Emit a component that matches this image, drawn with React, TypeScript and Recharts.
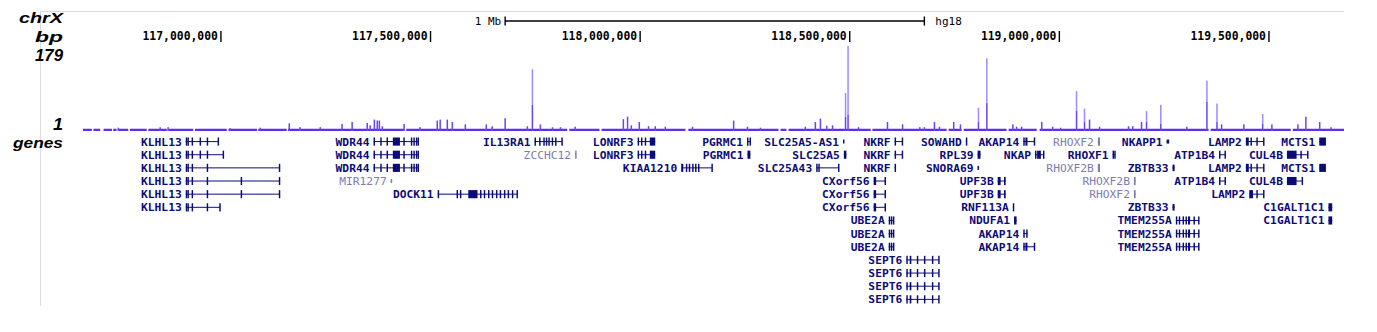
import React from "react";
import {
  Area,
  Bar,
  ComposedChart,
  ReferenceArea,
  ReferenceLine,
  Scatter,
  XAxis,
  YAxis,
} from "recharts";

// genomic window, chrX (hg18), in Mb
const X_DOMAIN: [number, number] = [116.671, 119.679];
const rulerTicks = [117, 117.5, 118, 118.5, 119, 119.5];
const scaleBar = [
  { x: 117.678, y: 0, label: "1 Mb", side: "left" },
  { x: 118.678, y: 0, label: "hg18", side: "right" },
];

// coverage spikes: [position Mb, height, dark lower part]
const peaks: [number, number, number?][] = [
  [116.755, 7], [116.855, 8], [116.874, 8], [117.022, 6], [117.094, 7], [117.163, 16], [117.189, 8], [117.237, 8],
  [117.289, 15], [117.313, 19], [117.349, 17], [117.356, 12], [117.366, 24], [117.373, 22], [117.378, 22], [117.385, 10],
  [117.437, 15], [117.475, 8], [117.516, 22], [117.523, 24], [117.540, 24], [117.552, 19], [117.583, 14], [117.633, 14],
  [117.647, 10], [117.678, 27], [117.731, 10], [117.743, 130, 55], [117.762, 14], [117.791, 8], [117.810, 8], [117.845, 9],
  [117.960, 25], [117.970, 30], [117.979, 12], [117.998, 19], [118.020, 10], [118.036, 10], [118.060, 9], [118.125, 9],
  [118.223, 22], [118.256, 9], [118.287, 7], [118.394, 9], [118.418, 19], [118.430, 26], [118.445, 11], [118.459, 12],
  [118.490, 80, 30], [118.496, 179, 35], [118.521, 8], [118.590, 19], [118.626, 14], [118.667, 8], [118.678, 8],
  [118.702, 19], [118.714, 9], [118.748, 19], [118.764, 14], [118.807, 49, 20], [118.827, 153, 60], [118.889, 14],
  [118.898, 9], [118.910, 9], [118.958, 19], [118.984, 9], [119.003, 7], [119.041, 84, 43], [119.060, 47, 20],
  [119.072, 24], [119.096, 9], [119.165, 10], [119.175, 10], [119.196, 19], [119.208, 42, 20], [119.242, 55, 15],
  [119.304, 9], [119.352, 106, 62], [119.376, 58, 20], [119.387, 14], [119.440, 14], [119.485, 36, 15], [119.507, 14],
  [119.569, 14], [119.588, 30], [119.621, 19], [119.648, 8],
];

// stretches where the low background coverage is drawn
const baselineRuns: [number, number][] = [
  [116.671, 116.692], [116.696, 116.712], [116.720, 116.740], [116.743, 116.751], [116.755, 116.779],
  [116.783, 116.823], [116.827, 116.871], [116.875, 116.934], [116.938, 117.014], [117.018, 117.086],
  [117.089, 117.157], [117.160, 117.437], [117.442, 117.826], [117.831, 117.903], [117.908, 118.108],
  [118.115, 118.330], [118.335, 118.349], [118.354, 118.550], [118.554, 118.731], [118.736, 118.767],
  [118.772, 118.874], [118.879, 118.946], [118.953, 119.356], [119.361, 119.552], [119.557, 119.679],
];
const BASE_LEVEL = 5;

type Gene = { name: string; rows: number[]; start: number; end: number; exons: number[][]; faint?: boolean };

// exons: [start, end, height factor?]
const genes: Gene[] = [
  { name: "KLHL13", rows: [0], start: 116.916, end: 116.994, exons: [[116.916, 116.918], [116.920, 116.923], [116.930, 116.932], [116.949, 116.951], [116.966, 116.968], [116.992, 116.994]] },
  { name: "KLHL13", rows: [1], start: 116.916, end: 117.006, exons: [[116.916, 116.918], [116.920, 116.923], [116.930, 116.932], [116.949, 116.951], [116.966, 116.968], [117.004, 117.006]] },
  { name: "KLHL13", rows: [2], start: 116.916, end: 117.140, exons: [[116.916, 116.918], [116.920, 116.923], [116.930, 116.932], [116.966, 116.968], [117.138, 117.140]] },
  { name: "KLHL13", rows: [3, 4], start: 116.916, end: 117.140, exons: [[116.916, 116.918], [116.920, 116.923], [116.930, 116.932], [116.966, 116.968], [117.047, 117.049], [117.138, 117.140]] },
  { name: "KLHL13", rows: [5], start: 116.916, end: 116.998, exons: [[116.916, 116.918], [116.920, 116.923], [116.930, 116.932], [116.966, 116.968], [116.996, 116.998]] },
  { name: "WDR44", rows: [0, 1, 2], start: 117.364, end: 117.471, exons: [[117.364, 117.366], [117.380, 117.382], [117.395, 117.397], [117.410, 117.427], [117.435, 117.437], [117.453, 117.455], [117.459, 117.462], [117.465, 117.467], [117.469, 117.471]] },
  { name: "MIR1277", rows: [3], start: 117.405, end: 117.407, exons: [[117.405, 117.407, 0.5]], faint: true },
  { name: "DOCK11", rows: [4], start: 117.517, end: 117.707, exons: [[117.517, 117.519], [117.562, 117.564], [117.570, 117.572], [117.590, 117.612], [117.618, 117.620], [117.627, 117.629], [117.637, 117.639], [117.646, 117.648], [117.656, 117.658], [117.665, 117.667], [117.675, 117.677], [117.684, 117.686], [117.694, 117.696], [117.705, 117.707]] },
  { name: "IL13RA1", rows: [0], start: 117.748, end: 117.814, exons: [[117.748, 117.750], [117.759, 117.761], [117.769, 117.771], [117.775, 117.777], [117.781, 117.783], [117.789, 117.791], [117.797, 117.799], [117.812, 117.814]] },
  { name: "ZCCHC12", rows: [1], start: 117.845, end: 117.847, exons: [[117.845, 117.847]], faint: true },
  { name: "LONRF3", rows: [0, 1], start: 117.994, end: 118.036, exons: [[117.994, 117.996], [118.002, 118.004], [118.011, 118.013], [118.023, 118.036]] },
  { name: "KIAA1210", rows: [2], start: 118.098, end: 118.172, exons: [[118.098, 118.103], [118.109, 118.111], [118.116, 118.118], [118.124, 118.126], [118.131, 118.133], [118.138, 118.140], [118.170, 118.172]] },
  { name: "PGRMC1", rows: [0], start: 118.255, end: 118.263, exons: [[118.255, 118.257], [118.261, 118.263]] },
  { name: "PGRMC1", rows: [1], start: 118.256, end: 118.263, exons: [[118.256, 118.263]] },
  { name: "SLC25A5-AS1", rows: [0], start: 118.484, end: 118.486, exons: [[118.484, 118.486, 0.5]] },
  { name: "SLC25A5", rows: [1], start: 118.486, end: 118.492, exons: [[118.486, 118.492]] },
  { name: "SLC25A43", rows: [2], start: 118.420, end: 118.474, exons: [[118.420, 118.422], [118.425, 118.427], [118.472, 118.474]] },
  { name: "NKRF", rows: [0, 1], start: 118.607, end: 118.626, exons: [[118.607, 118.610], [118.624, 118.626]] },
  { name: "NKRF", rows: [2], start: 118.607, end: 118.609, exons: [[118.607, 118.609]] },
  { name: "CXorf56", rows: [3, 4, 5], start: 118.557, end: 118.585, exons: [[118.557, 118.563], [118.583, 118.585]] },
  { name: "UBE2A", rows: [6, 7, 8], start: 118.593, end: 118.605, exons: [[118.593, 118.595], [118.598, 118.599], [118.603, 118.605]] },
  { name: "SEPT6", rows: [9, 10, 11, 12], start: 118.635, end: 118.713, exons: [[118.635, 118.638], [118.643, 118.647], [118.660, 118.662], [118.677, 118.679], [118.696, 118.698], [118.711, 118.713]] },
  { name: "SOWAHD", rows: [0], start: 118.777, end: 118.779, exons: [[118.777, 118.779]] },
  { name: "RPL39", rows: [1], start: 118.805, end: 118.812, exons: [[118.805, 118.812]] },
  { name: "SNORA69", rows: [2], start: 118.805, end: 118.807, exons: [[118.805, 118.807, 0.5]] },
  { name: "UPF3B", rows: [3, 4], start: 118.853, end: 118.872, exons: [[118.853, 118.860], [118.868, 118.872]] },
  { name: "RNF113A", rows: [5], start: 118.889, end: 118.891, exons: [[118.889, 118.891]] },
  { name: "NDUFA1", rows: [6], start: 118.892, end: 118.898, exons: [[118.892, 118.898]] },
  { name: "AKAP14", rows: [7], start: 118.914, end: 118.924, exons: [[118.914, 118.916], [118.921, 118.924]] },
  { name: "AKAP14", rows: [0, 8], start: 118.914, end: 118.941, exons: [[118.914, 118.916], [118.919, 118.924], [118.939, 118.941]] },
  { name: "NKAP", rows: [1], start: 118.942, end: 118.963, exons: [[118.942, 118.944], [118.947, 118.956], [118.961, 118.963]] },
  { name: "RHOXF2", rows: [0], start: 119.092, end: 119.097, exons: [[119.092, 119.097]], faint: true },
  { name: "RHOXF1", rows: [1], start: 119.127, end: 119.134, exons: [[119.127, 119.129], [119.131, 119.134]] },
  { name: "RHOXF2B", rows: [2], start: 119.092, end: 119.097, exons: [[119.092, 119.097]], faint: true },
  { name: "RHOXF2B", rows: [3], start: 119.178, end: 119.182, exons: [[119.178, 119.182]], faint: true },
  { name: "RHOXF2", rows: [4], start: 119.178, end: 119.182, exons: [[119.178, 119.182]], faint: true },
  { name: "NKAPP1", rows: [0], start: 119.256, end: 119.262, exons: [[119.256, 119.262, 0.5]] },
  { name: "ZBTB33", rows: [2, 5], start: 119.270, end: 119.275, exons: [[119.270, 119.275, 0.8]] },
  { name: "TMEM255A", rows: [6, 7, 8], start: 119.278, end: 119.333, exons: [[119.278, 119.280], [119.285, 119.287], [119.294, 119.296], [119.301, 119.303], [119.307, 119.312], [119.320, 119.322], [119.331, 119.333]] },
  { name: "ATP1B4", rows: [1, 3], start: 119.381, end: 119.397, exons: [[119.381, 119.384], [119.394, 119.397]] },
  { name: "LAMP2", rows: [0, 2], start: 119.445, end: 119.488, exons: [[119.445, 119.452], [119.456, 119.458], [119.470, 119.472], [119.486, 119.488]] },
  { name: "LAMP2", rows: [4], start: 119.453, end: 119.488, exons: [[119.453, 119.462], [119.470, 119.472], [119.486, 119.488]] },
  { name: "MCTS1", rows: [0, 2], start: 119.620, end: 119.636, exons: [[119.620, 119.636]] },
  { name: "CUL4B", rows: [1], start: 119.543, end: 119.593, exons: [[119.543, 119.566], [119.575, 119.577], [119.591, 119.593]] },
  { name: "CUL4B", rows: [3], start: 119.543, end: 119.580, exons: [[119.543, 119.566], [119.578, 119.580]] },
  { name: "C1GALT1C1", rows: [5, 6], start: 119.642, end: 119.651, exons: [[119.642, 119.651]] },
];

const PLOT_LEFT = 83;
const PLOT_W = 1261;
const ROW_H = 13.15;
const GENE_ROWS = 13;
const MIN_EXON = 0.0035; // keep 1-px exon ticks crisp
const SPIKE_W = 1.5;
const NAVY = "#0c0c78";
const FAINT = "#7c7cb0";
const BASE_COLOR = "#5a2ff2";
const CORE_COLOR = "#6844f6";
const TIP_COLOR = "#a08aff";
const MONO = "'DejaVu Sans Mono', monospace";

const peakData = peaks.map(([x, h, core]) => ({
  x,
  core: core ?? h,
  tip: core ? h - core : 0,
}));

const baselineData = baselineRuns.flatMap(([s, e]) => [
  { x: s, b: BASE_LEVEL },
  { x: e, b: 0 },
]);

const geneRows = genes.flatMap((g) => g.rows.map((row) => ({ ...g, row })));
const geneLabels = geneRows.map((g) => ({ x: g.start, y: g.row, name: g.name, faint: g.faint }));

// draws a fixed-width spike centred on the bar slot the library computed
function Spike(props: any) {
  const { x, y, width, height, fill } = props;
  if (!height || height <= 0) return null;
  return <rect x={x + width / 2 - SPIKE_W / 2} y={y} width={SPIKE_W} height={height} fill={fill} />;
}

function RulerTick(props: any) {
  const { x, y, payload } = props;
  const label = Math.round(payload.value * 1e6).toLocaleString("en-US");
  return (
    <g>
      <text x={x - 3} y={y - 6} textAnchor="end" fontFamily={MONO} fontWeight="bold" fontSize={11.4} fill="#000">
        {label}
      </text>
      <line x1={x} x2={x} y1={y - 15} y2={y - 4} stroke="#000" strokeWidth={1.4} />
    </g>
  );
}

function ScaleEnd(props: any) {
  const { cx, cy, payload } = props;
  const left = payload.side === "left";
  return (
    <g>
      <line x1={cx} x2={cx} y1={cy - 4.5} y2={cy + 4.5} stroke="#000" strokeWidth={1.4} />
      <text
        x={left ? cx - 4 : cx + 11}
        y={cy + 3.5}
        textAnchor={left ? "end" : "start"}
        fontFamily={MONO}
        fontSize={11}
        fill="#000"
      >
        {payload.label}
      </text>
    </g>
  );
}

function GeneLabel(props: any) {
  const { cx, cy, payload } = props;
  return (
    <text
      x={cx - 4}
      y={cy + 4}
      textAnchor="end"
      fontFamily={MONO}
      fontWeight={payload.faint ? "normal" : "bold"}
      fontSize={11.3}
      fill={payload.faint ? FAINT : NAVY}
    >
      {payload.name}
    </text>
  );
}

const sideLabels = [
  { text: "chrX", y: 23, len: 44, size: 15 },
  { text: "bp", y: 42, len: 28, size: 15 },
  { text: "179", y: 61, len: 28, size: 16 },
  { text: "1", y: 130, len: 10, size: 16 },
  { text: "genes", y: 148, len: 50, size: 15 },
];

const noMargin = { top: 0, right: 0, bottom: 0, left: 0 };

export default function App() {
  return (
    <div
      style={{
        position: "absolute",
        left: 0,
        top: 0,
        width: 1377,
        height: 332,
        background: "#fff",
        overflow: "hidden",
      }}
    >
      <svg width={1377} height={332} style={{ position: "absolute", left: 0, top: 0 }}>
        <line x1={40} x2={1344} y1={11.5} y2={11.5} stroke="#dcdcdc" strokeWidth={1} />
        <line x1={40.5} x2={40.5} y1={11.5} y2={306} stroke="#dcdcdc" strokeWidth={1} />
        {sideLabels.map((l) => (
          <text
            key={l.text}
            x={63 - l.len}
            y={l.y}
            textLength={l.len}
            lengthAdjust="spacingAndGlyphs"
            fontFamily="'Liberation Sans', Arial, sans-serif"
            fontWeight="bold"
            fontStyle="italic"
            fontSize={l.size}
            fill="#000"
          >
            {l.text}
          </text>
        ))}
      </svg>

      {/* 1 Mb scale bar */}
      <div style={{ position: "absolute", left: PLOT_LEFT, top: 10 }}>
        <ComposedChart width={PLOT_W} height={22} margin={noMargin} data={scaleBar}>
          <XAxis type="number" dataKey="x" domain={X_DOMAIN} allowDataOverflow hide />
          <YAxis type="number" dataKey="y" domain={[-1, 1]} hide />
          <Scatter
            dataKey="y"
            line={{ stroke: "#000", strokeWidth: 1.4 }}
            shape={<ScaleEnd />}
            isAnimationActive={false}
          />
        </ComposedChart>
      </div>

      {/* ruler + coverage */}
      <div style={{ position: "absolute", left: PLOT_LEFT, top: 0 }}>
        <ComposedChart width={PLOT_W} height={131} margin={noMargin} data={peakData}>
          <XAxis
            type="number"
            dataKey="x"
            orientation="top"
            domain={X_DOMAIN}
            allowDataOverflow
            ticks={rulerTicks}
            interval={0}
            height={46}
            axisLine={false}
            tickLine={false}
            tickSize={0}
            tickMargin={0}
            tick={<RulerTick />}
          />
          <YAxis type="number" domain={[0, 179]} allowDataOverflow hide />
          <Area
            data={baselineData}
            dataKey="b"
            type="stepAfter"
            stroke="none"
            fill={BASE_COLOR}
            fillOpacity={1}
            isAnimationActive={false}
          />
          <Bar dataKey="core" stackId="p" fill={CORE_COLOR} shape={<Spike />} isAnimationActive={false} />
          <Bar dataKey="tip" stackId="p" fill={TIP_COLOR} shape={<Spike />} isAnimationActive={false} />
        </ComposedChart>
      </div>

      {/* genes track */}
      <div style={{ position: "absolute", left: PLOT_LEFT, top: 135.15 }}>
        <ComposedChart width={PLOT_W} height={ROW_H * GENE_ROWS} margin={noMargin} data={geneLabels}>
          <XAxis type="number" dataKey="x" domain={X_DOMAIN} allowDataOverflow hide />
          <YAxis type="number" dataKey="y" domain={[-0.5, GENE_ROWS - 0.5]} reversed allowDataOverflow hide />
          {geneRows.map((g, i) => (
            <ReferenceLine
              key={`l${i}`}
              segment={[
                { x: g.start, y: g.row },
                { x: g.end, y: g.row },
              ]}
              stroke={g.faint ? FAINT : NAVY}
              strokeWidth={1}
              ifOverflow="visible"
            />
          ))}
          {geneRows.flatMap((g, i) =>
            g.exons.map(([s, e, h], j) => (
              <ReferenceArea
                key={`e${i}-${j}`}
                x1={s}
                x2={Math.max(e, s + MIN_EXON)}
                y1={g.row - 0.31 * (h ?? 1)}
                y2={g.row + 0.31 * (h ?? 1)}
                fill={g.faint ? FAINT : NAVY}
                fillOpacity={1}
                stroke="none"
                ifOverflow="visible"
              />
            ))
          )}
          <Scatter dataKey="y" shape={<GeneLabel />} isAnimationActive={false} />
        </ComposedChart>
      </div>
    </div>
  );
}
